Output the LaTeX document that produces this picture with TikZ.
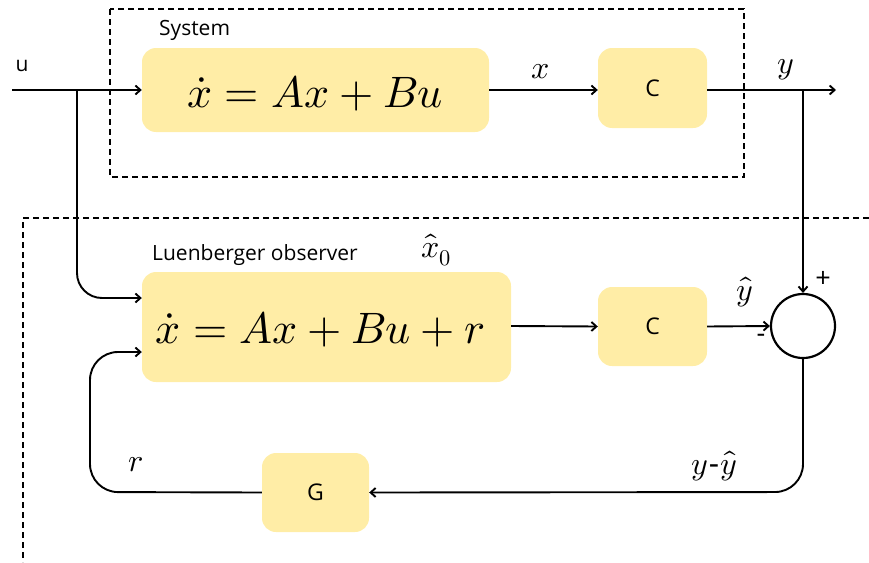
\documentclass[tikz,border=0pt]{standalone}
\usepackage{fontspec}
\setmainfont{Open Sans}
\usepackage{unicode-math}
\setmathfont{Latin Modern Math}
\usetikzlibrary{arrows.meta}
\definecolor{boxyellow}{HTML}{FFEDA6}
\tikzset{
  blk/.style={fill=boxyellow, rounded corners=14pt, inner sep=0pt},
  wire/.style={line width=1.9pt, -{Straight Barb[length=5pt,width=9pt,line width=1.9pt]}},
  frame/.style={line width=1.7pt, dash pattern=on 6pt off 4pt},
  lbl/.style={font=\fontsize{21}{24}\selectfont, inner sep=0pt},
  blbl/.style={font=\fontsize{23}{26}\selectfont, inner sep=0pt},
  slbl/.style={font=\fontsize{27}{30}\selectfont, inner sep=0pt},
  mlbl/.style={font=\fontsize{32}{36}\selectfont, inner sep=0pt},
  eqn/.style={font=\fontsize{44}{48}\selectfont, inner sep=0pt, anchor=base},
}
\begin{document}
\begin{tikzpicture}[x=1pt,y=-1pt]
\useasboundingbox (0,0) rectangle (869,562);
% frames
\draw[frame] (110,9) rectangle (744,177);
\draw[frame] (869,218) -- (23,218) -- (23,562);
% blocks
\node[blk, minimum width=347pt, minimum height=84pt] (sys) at (315.5,90) {};
\node[eqn] (syseq) at (315,107) {$\dot{x}=Ax+Bu$};
\node[blk, minimum width=109pt, minimum height=80pt] (c1) at (652.5,88) {};
\node[blbl] (c1t) at (c1.center) {C};
\node[blk, minimum width=369pt, minimum height=110pt] (obs) at (326.5,327) {};
\node[eqn] (obseq) at (320.5,343) {$\dot{x}=Ax+Bu+r$};
\node[blk, minimum width=109pt, minimum height=79pt] (c2) at (652.5,326.5) {};
\node[blbl] (c2t) at (c2.center) {C};
\node[blk, minimum width=107pt, minimum height=79pt] (g) at (315.5,492.5) {};
\node[blbl] (gt) at (g.center) {G};
\node[circle, draw, line width=2.2pt, minimum size=64pt, inner sep=0pt] (sum) at (803,326) {};
% labels
\node[lbl, anchor=west] (syslbl) at (159,30) {System};
\node[lbl, anchor=west] (obslbl) at (152,255) {Luenberger observer};
\node[lbl] (ulbl) at (22,66) {u};
\node[mlbl] (xlbl) at (541,72) {$x$};
\node[mlbl] (ylbl) at (786,70) {$y$};
\node[mlbl] (x0lbl) at (436,250) {$\hat{x}_0$};
\node[mlbl] (yhlbl) at (745,292) {$\hat{y}$};
\node[mlbl] (rlbl) at (136,465) {$r$};
\node[mlbl] (eylbl) at (714,466) {$y$\kern1pt-\kern1pt$\hat{y}$};
\node[slbl] (plus) at (823,279) {+};
\node[slbl] (minus) at (761,338) {-};
% coordinates
\coordinate (uin) at (12,90);
\coordinate (ubr) at (77,90);
\coordinate (yout) at (836,90);
\coordinate (ybr) at (803,90);
% connectors
\draw[wire] (uin) -- (sys.west |- uin);
\draw[wire] (sys.east |- 0,90) -- (c1.west |- 0,90);
\draw[wire] (c1.east |- 0,90) -- (yout);
\draw[wire] (ybr) -- (sum.north);
\draw[wire, rounded corners=25pt] (ubr) -- (77,298) -- (obs.west |- 0,298);
\draw[wire] (obs.east |- 0,326) -- (c2.west);
\draw[wire] (c2.east) -- (sum.west);
\draw[wire, rounded corners=28pt] (sum.south) -- (803,492) -- (g.east);
\draw[wire, rounded corners=28pt] (g.west) -- (90,492) -- (90,352) -- (obs.west |- 0,352);
\end{tikzpicture}
\end{document}
